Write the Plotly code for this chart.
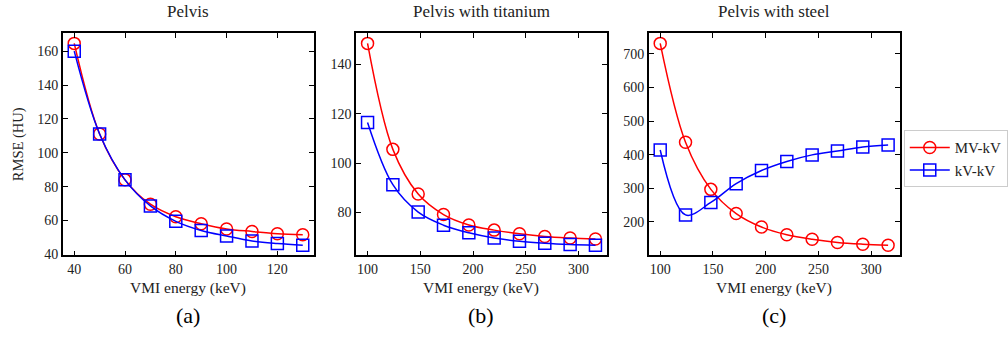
import numpy as np
import plotly.graph_objects as go

# ---- data ----
x_a = [40, 50, 60, 70, 80, 90, 100, 110, 120, 130]
mv_a = [164.6, 111.1, 84.0, 69.6, 62.2, 58.1, 55.0, 53.5, 52.2, 51.6]
kv_a = [160.0, 111.1, 84.0, 68.6, 59.5, 54.1, 50.8, 47.9, 46.4, 45.4]

x_bc = [100, 124, 148, 172, 196, 220, 244, 268, 292, 316]
mv_b = [148.5, 105.6, 87.5, 79.2, 75.0, 72.9, 71.4, 70.3, 69.7, 69.3]
kv_b = [116.5, 91.3, 80.2, 74.9, 71.8, 69.7, 68.4, 67.6, 67.1, 66.8]

mv_c = [731, 437, 297, 225, 185, 162, 148.5, 139, 134, 131]
kv_c = [414, 221, 258, 314, 353, 380, 399.5, 411, 423, 429]

titles = ["Pelvis", "Pelvis with titanium", "Pelvis with steel"]
panel_labels = ["(a)", "(b)", "(c)"]
series_names = ["MV-kV", "kV-kV"]

RED = "#ff0000"
BLUE = "#0000ff"
FONT = "Liberation Serif, Times New Roman, serif"

W, H = 1008, 337
doms_x = [(63.3 / W, 316.7 / W), (359 / W, 611.7 / W), (654 / W, 906.7 / W)]
dom_y = (1 - 260.7 / H, 1 - 34 / H)

fig = go.Figure()

panels = [(x_a, mv_a, kv_a), (x_bc, mv_b, kv_b), (x_bc, mv_c, kv_c)]
for i, (xs, mv, kv) in enumerate(panels):
    xa = "x" if i == 0 else f"x{i+1}"
    ya = "y" if i == 0 else f"y{i+1}"
    for name, ys, col, sym in [(series_names[0], mv, RED, "circle-open"),
                               (series_names[1], kv, BLUE, "square-open")]:
        fig.add_trace(go.Scatter(
            x=xs, y=ys, mode="lines+markers", name=name,
            line=dict(color=col, width=1.5, shape="spline", smoothing=1.0),
            marker=dict(symbol=sym, size=12, color=col, line=dict(color=col, width=1.5)),
            xaxis=xa, yaxis=ya, showlegend=(i == 2),
        ))

def span(lo, hi):
    m = (hi - lo) * 0.05
    return [lo - m, hi + m]

yranges = [span(min(kv_a), max(mv_a)), span(min(kv_b), max(mv_b)), span(min(mv_c), max(mv_c))]
xranges = [span(40, 130), span(100, 316), span(100, 316)]
xticks = [[40, 60, 80, 100, 120], [100, 150, 200, 250, 300], [100, 150, 200, 250, 300]]
yticks = [[40, 60, 80, 100, 120, 140, 160], [80, 100, 120, 140], [200, 300, 400, 500, 600, 700]]

axcommon = dict(showline=True, linecolor="black", linewidth=1.5, mirror="ticks",
                ticks="inside", ticklen=5, tickwidth=1.2, tickcolor="black",
                showgrid=False, zeroline=False,
                tickfont=dict(family=FONT, size=14, color="#222"))

layout = dict(width=W, height=H, margin=dict(l=0, r=0, t=0, b=0),
              plot_bgcolor="white", paper_bgcolor="white",
              font=dict(family=FONT, color="#222"))
for i in range(3):
    sx = "" if i == 0 else str(i + 1)
    layout[f"xaxis{sx}"] = dict(axcommon, domain=list(doms_x[i]), range=xranges[i],
                                tickvals=xticks[i], anchor=f"y{sx}")
    layout[f"yaxis{sx}"] = dict(axcommon, domain=list(dom_y), range=yranges[i],
                                tickvals=yticks[i], anchor=f"x{sx}")
fig.update_layout(**layout)

ann = []
for i in range(3):
    cx = (doms_x[i][0] + doms_x[i][1]) / 2
    ann.append(dict(text=titles[i], x=cx, y=1 - 12 / H, xref="paper", yref="paper",
                    showarrow=False, font=dict(family=FONT, size=17, color="#222"),
                    xanchor="center", yanchor="middle"))
    ann.append(dict(text="VMI energy (keV)", x=cx, y=1 - 294 / H, xref="paper", yref="paper",
                    showarrow=False, font=dict(family=FONT, size=15.5, color="#222"),
                    xanchor="center", yanchor="middle"))
    ann.append(dict(text=panel_labels[i], x=cx, y=1 - 322 / H, xref="paper", yref="paper",
                    showarrow=False, font=dict(family=FONT, size=22, color="black"),
                    xanchor="center", yanchor="middle"))
ann.append(dict(text="RMSE (HU)", x=18 / W, y=(dom_y[0] + dom_y[1]) / 2, xref="paper", yref="paper",
                showarrow=False, textangle=-90, font=dict(family=FONT, size=14.5, color="#222"),
                xanchor="center", yanchor="middle"))
fig.update_layout(annotations=ann)

fig.update_layout(legend=dict(x=911 / W, y=1 - 133 / H, xanchor="left", yanchor="top",
                              bordercolor="#cccccc", borderwidth=1, bgcolor="white",
                              font=dict(family=FONT, size=15, color="#222"),
                              tracegroupgap=2, itemwidth=40))

fig.write_html("out.html")
